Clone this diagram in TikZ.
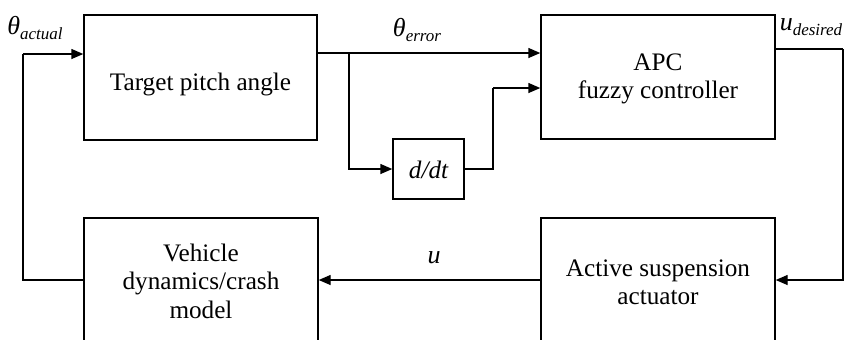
\documentclass[tikz,border=0pt]{standalone}
\usepackage{fontspec}
\setmainfont{Liberation Serif}
\usetikzlibrary{arrows.meta}
\newcommand{\subtxt}[1]{\raisebox{-0.4ex}{\fontsize{8.5}{9}\selectfont #1}}
\begin{document}
\begin{tikzpicture}[x=0.5pt,y=-0.5pt,
  box/.style={draw,line width=0.7pt,inner sep=0pt},
  txt/.style={inner sep=0pt,align=center,font=\fontsize{12.6}{14.2}\selectfont},
  arr/.style={line width=0.7pt,-{Triangle[length=6pt,width=5pt]}},
  ln/.style={line width=0.7pt},
  lbl/.style={inner sep=0pt,font=\fontsize{13}{14.5}\selectfont\itshape}]
\useasboundingbox (0,0) rectangle (853,339);
\begin{scope}
\clip (0,0) rectangle (853,339);
\node[box,minimum width=116.5pt,minimum height=62.5pt] (tpa) at (200.5,77.5) {};
\node[box,minimum width=117pt,minimum height=62pt] (apc) at (658,77) {};
\node[box,minimum width=35.5pt,minimum height=30pt] (ddt) at (428.5,169) {};
\node[box,minimum width=117pt,minimum height=62pt] (veh) at (201,280) {};
\node[box,minimum width=117pt,minimum height=62pt] (act) at (658,280) {};
\end{scope}
\node[txt] (ttpa) at (200.5,84) {Target pitch angle};
\node[txt] (tapc) at (658,79) {APC\\fuzzy controller};
\node[txt,font=\fontsize{12.6}{14.2}\selectfont\itshape] (tddt) at (428.5,170) {d/dt};
\node[txt] (tveh) at (201,281) {Vehicle\\dynamics/crash\\model};
\node[txt] (tact) at (658,282) {Active suspension\\actuator};
\coordinate (yerr) at (0,53);
\coordinate (br) at (349,53);
\coordinate (turn) at (493,88);
\coordinate (ud) at (843,49);
\coordinate (fb) at (23,54);
\draw[arr] (tpa.east |- yerr) -- (apc.west |- yerr);
\draw[arr] (br) |- (ddt.west);
\draw[ln] (ddt.east) -| (turn);
\draw[arr] (turn) -- (apc.west |- turn);
\draw[ln] (apc.east |- ud) -- (ud);
\draw[arr] (ud) |- (act.east);
\draw[arr] (act.west) -- (veh.east);
\draw[ln] (veh.west) -| (fb);
\draw[arr] (fb) -- (tpa.west |- fb);
\node[lbl] (lact) at (35,28) {θ\subtxt{actual}};
\node[lbl] (lerr) at (417,30) {θ\subtxt{error}};
\node[lbl] (ldes) at (811,27) {u\subtxt{desired}};
\node[lbl] (lu) at (434,258) {u};
\end{tikzpicture}
\end{document}
